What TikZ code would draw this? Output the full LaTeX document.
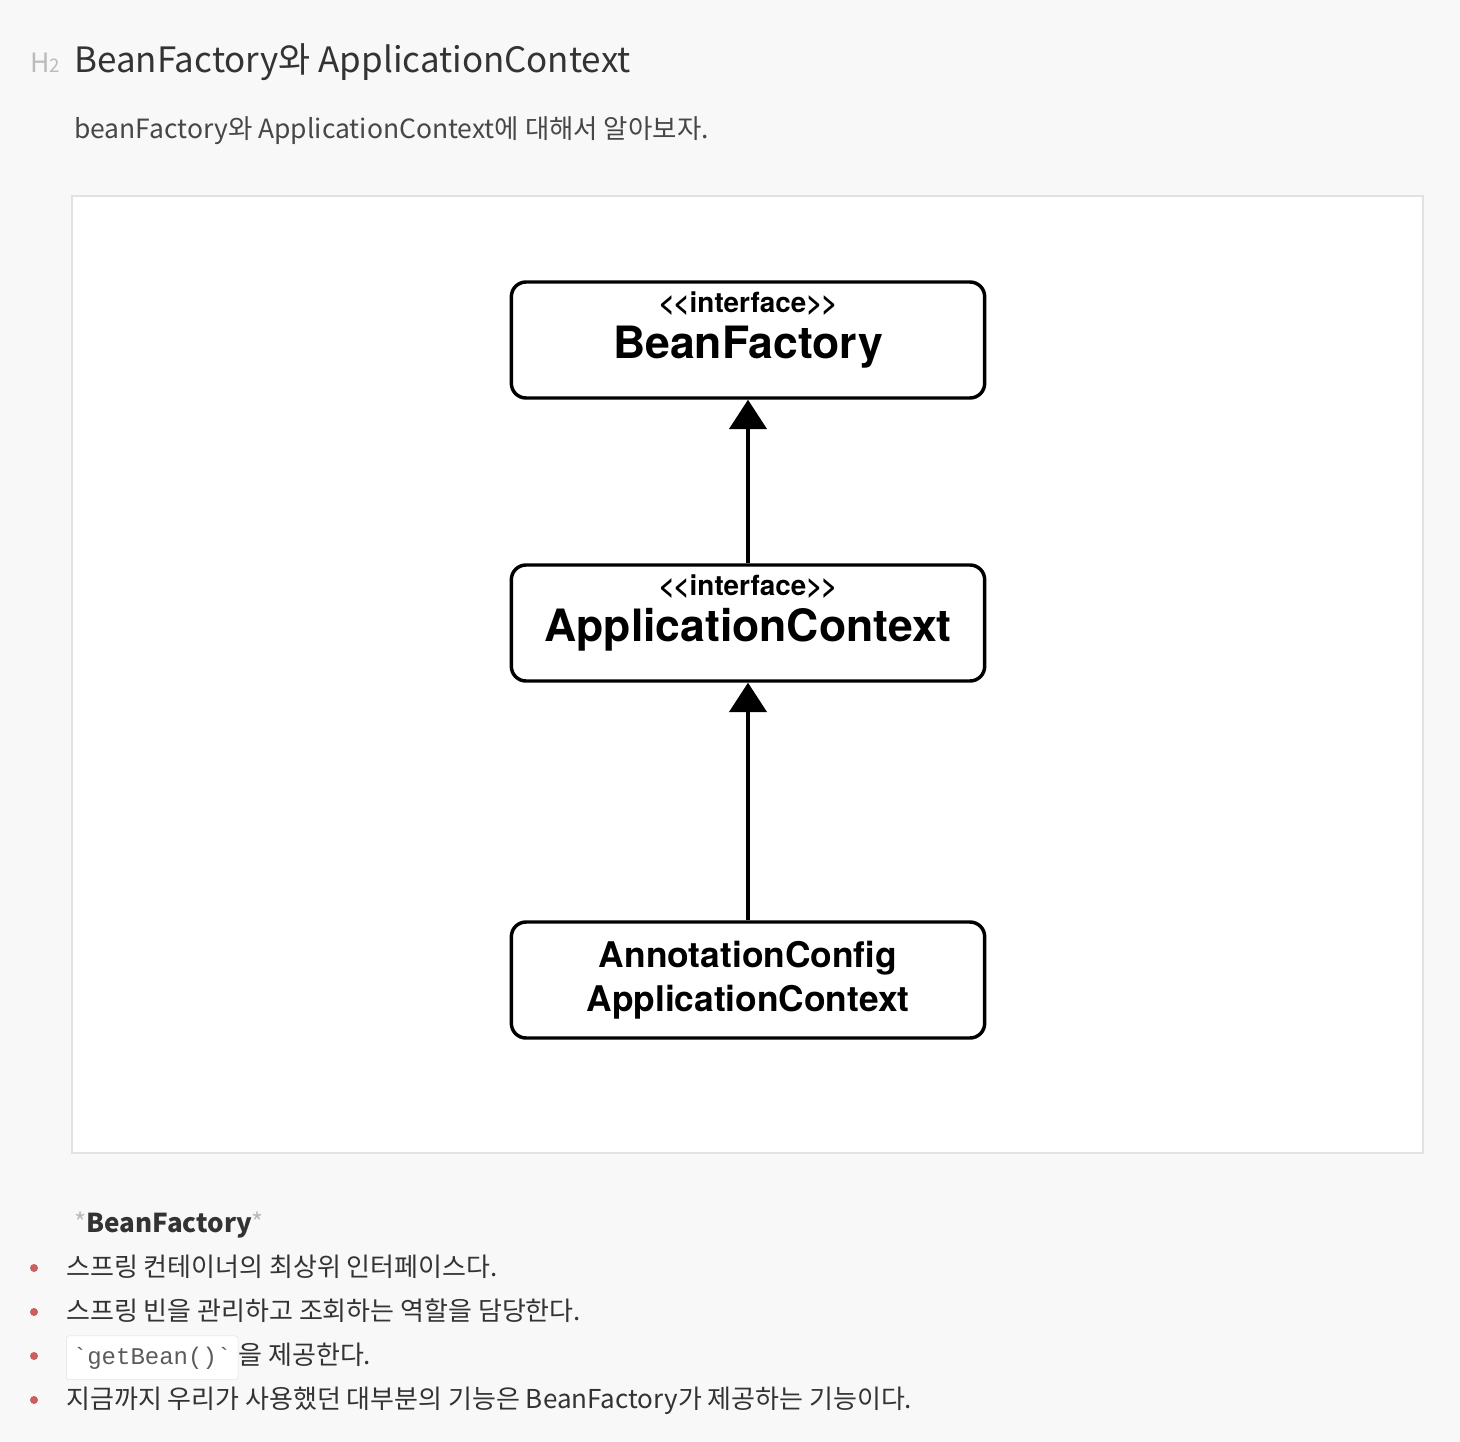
\documentclass[tikz,border=0pt]{standalone}
\usepackage{fontspec}
\setmainfont{Noto Sans CJK KR}
\newfontfamily\diagfont{TeX Gyre Heros}
\newfontfamily\codefont{Liberation Mono}
\usetikzlibrary{arrows.meta}
\definecolor{pagebg}{HTML}{F8F8F8}
\definecolor{panelline}{HTML}{E2E2E2}
\definecolor{textgray}{HTML}{333333}
\definecolor{lightgray}{HTML}{BBBBBB}
\definecolor{bulletred}{HTML}{C9605E}
\newcommand{\stereo}{\fontsize{20.9}{21}\selectfont <\kern-1pt<interface>\kern-1pt>}
\newcommand{\bigname}{\fontsize{33.4}{33.75}\selectfont}
\newcommand{\midname}{\fontsize{26.5}{33}\selectfont}
\tikzset{
  umlbox/.style={draw, line width=2.6pt, rounded corners=11pt, minimum width=355pt,
    minimum height=87pt, align=center, inner sep=0pt, font=\diagfont\bfseries},
  ifacebox/.style={umlbox, text depth=22pt},
  inherit/.style={line width=2.4pt, -{Triangle[width=28pt,length=22pt]}},
  bodytext/.style={anchor=base west, text=textgray, inner sep=0pt,
    font=\fontsize{19.5}{23}\selectfont},
  bulletdot/.style={circle, fill=bulletred, inner sep=0pt, minimum size=6pt},
  codebox/.style={draw=panelline, fill=white, rounded corners=2pt, anchor=base west,
    inner xsep=5pt, inner ysep=8pt, text=textgray!80, font=\codefont\fontsize{18}{22}\selectfont}
}
\begin{document}
\begin{tikzpicture}[x=0.75pt, y=-0.75pt]
            \useasboundingbox (0,0) rectangle (1460,1442);
            \fill[pagebg] (0,0) rectangle (1460,1442);
            \draw[panelline, line width=1.5pt, fill=white] (72,196) rectangle (1423,1153);

            \node[anchor=base west, inner sep=0pt, text=lightgray] (h2) at (30,72)
                {\fontsize{20}{20}\selectfont H\fontsize{14}{14}\selectfont 2};
            \node[anchor=base west, inner sep=0pt, text=textgray, font=\fontsize{26.2}{30}\selectfont]
                (title) at (74,72) {BeanFactory와 ApplicationContext};
            \node[anchor=base west, inner sep=0pt, text=textgray!90, font=\fontsize{19.85}{24}\selectfont]
                (intro) at (74,138) {beanFactory와 ApplicationContext에 대해서 알아보자.};

            \node[ifacebox] (beanfactory) at (748,340) {\stereo\\[6.75pt]\bigname BeanFactory};
            \node[ifacebox] (appcontext) at (748,623) {\stereo\\[6.75pt]\bigname ApplicationContext};
            \node[umlbox] (annotation) at (748,980) {\midname AnnotationConfig\\[6pt]\midname ApplicationContext};

            \draw[inherit] (appcontext.north) -- (beanfactory.south);
            \draw[inherit] (annotation.north) -- (appcontext.south);

            \node[bodytext] (heading) at (74,1232)
                {\textcolor{lightgray}{*}\textbf{BeanFactory}\textcolor{lightgray}{*}};
            \node[bulletdot] (dot1) at (34,1268) {};
            \node[bulletdot] (dot2) at (34,1312) {};
            \node[bulletdot] (dot3) at (34,1356) {};
            \node[bulletdot] (dot4) at (34,1400) {};
            \node[bodytext] (item1) at (66,1276) {스프링 컨테이너의 최상위 인터페이스다.};
            \node[bodytext] (item2) at (66,1320) {스프링 빈을 관리하고 조회하는 역할을 담당한다.};
            \node[codebox] (getbean) at (66,1364) {\textasciigrave getBean()\textasciigrave};
            \node[bodytext] (item3) at (getbean.base east) {을 제공한다.};
            \node[bodytext] (item4) at (66,1408) {지금까지 우리가 사용했던 대부분의 기능은 BeanFactory가 제공하는 기능이다.};
        \end{tikzpicture}
\end{document}
